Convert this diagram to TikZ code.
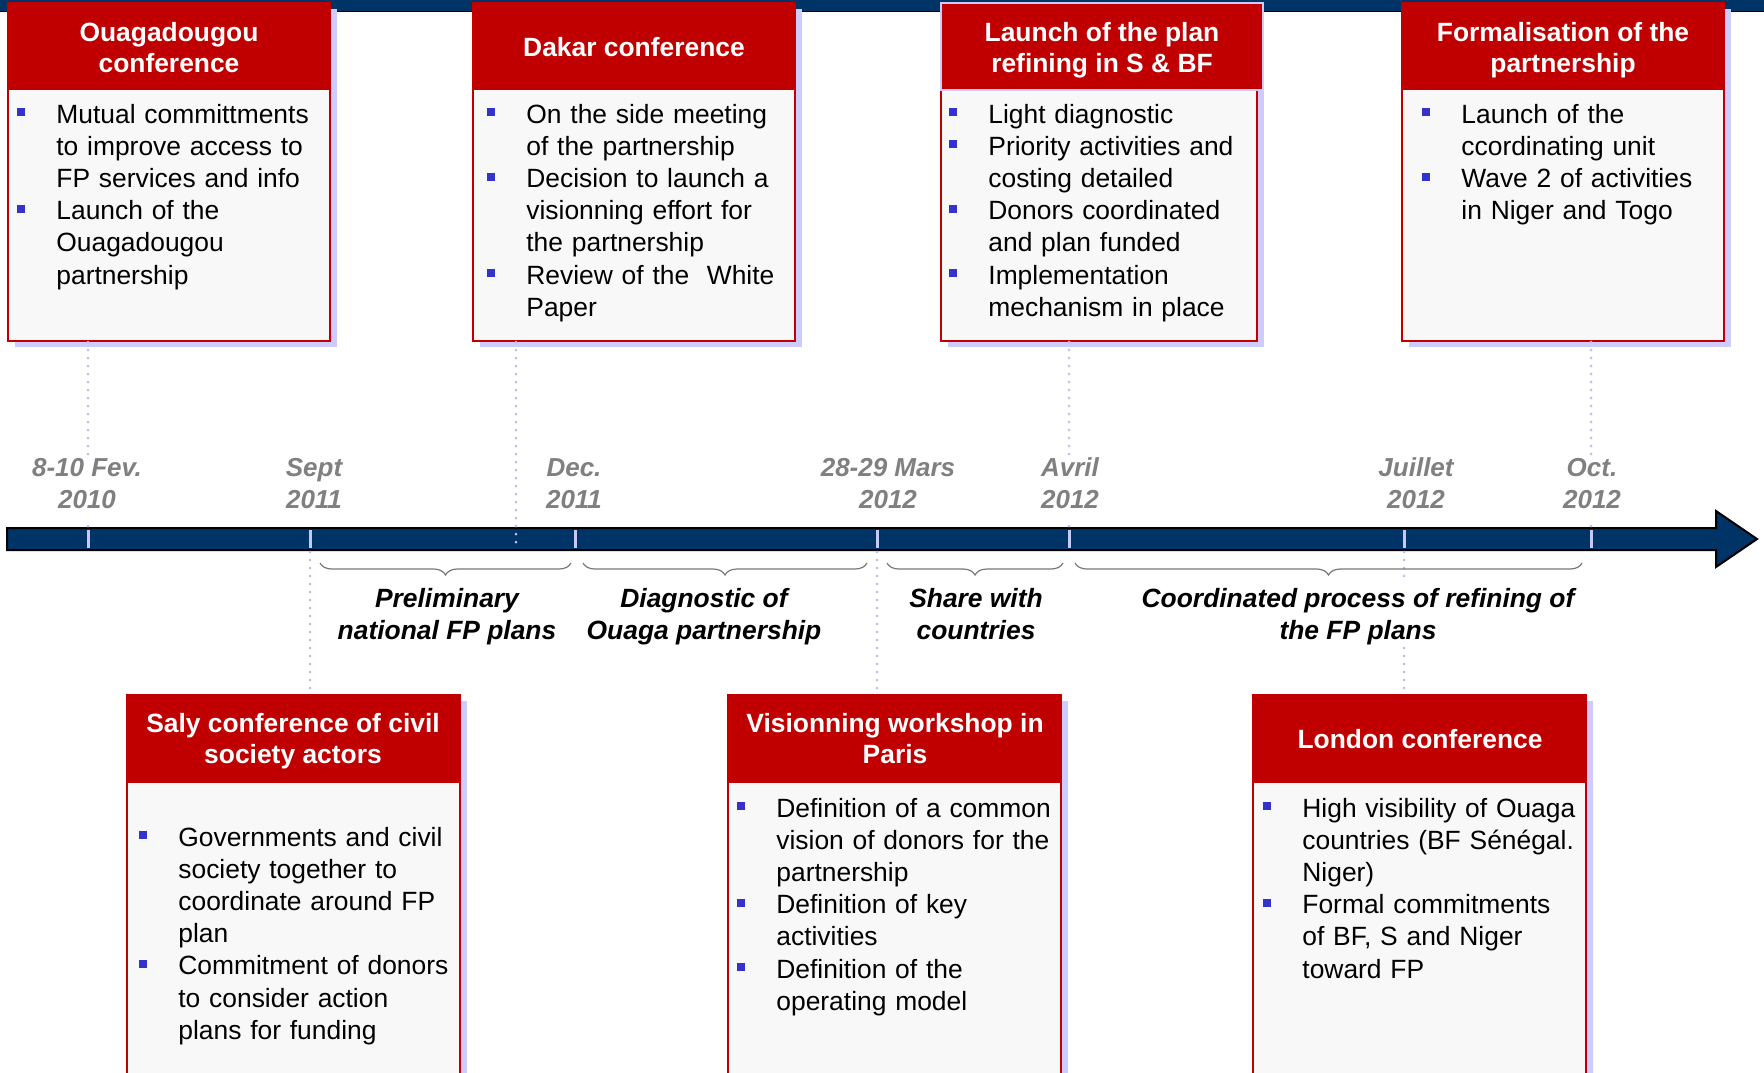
\documentclass[tikz,border=0pt]{standalone}
\usepackage{fontspec}
\setmainfont{Liberation Sans}
\usetikzlibrary{calc,fit,shadows,decorations.pathreplacing}

\definecolor{headred}{RGB}{192,0,0}
\definecolor{shadowblue}{RGB}{204,204,255}
\definecolor{bulletblue}{RGB}{51,51,204}
\definecolor{barnavy}{RGB}{0,51,102}
\definecolor{dategray}{RGB}{128,128,128}
\definecolor{bodyfill}{RGB}{248,248,248}
\definecolor{tickblue}{RGB}{200,200,245}
\definecolor{dotblue}{RGB}{190,190,240}
\definecolor{bracegray}{RGB}{120,120,120}

\newlength{\bulletskip}\setlength{\bulletskip}{19.5pt}
\def\bodyfont{\fontsize{13.2}{16.1}\selectfont}
\def\titlefont{\fontsize{13.2}{15.5}\selectfont\bfseries}
\def\datefont{\fontsize{13}{16}\selectfont\bfseries\itshape}
\def\phasefont{\fontsize{13.2}{16}\selectfont\bfseries\itshape}
\def\bitem{\par\noindent\hangindent=\bulletskip\hangafter=1\makebox[\bulletskip][l]{\textcolor{bulletblue}{\rule[3.5pt]{4pt}{4pt}}}\strut}

\tikzset{
	framebox/.style={draw=headred, line width=1pt, fill=bodyfill, inner sep=0pt,
		drop shadow={shadow xshift=3.5pt, shadow yshift=-3pt, fill=shadowblue, opacity=1}},
	headbar/.style={fill=headred},
	boxtitle/.style={text=white, font=\titlefont, align=center, inner sep=0pt},
	boxtext/.style={anchor=north west, inner sep=0pt, text width=170pt, font=\bodyfont},
	datelabel/.style={anchor=south, text=dategray, font=\datefont, align=center, fill=white, inner sep=1pt},
	phaselabel/.style={anchor=north, font=\phasefont, align=center, fill=white, inner sep=1pt},
	dotline/.style={draw=dotblue, line width=1.5pt, dash pattern=on 0pt off 4pt, line cap=round},
	tickmark/.style={draw=tickblue, line width=1.5pt},
	phasebrace/.style={draw=bracegray, line width=0.6pt, decorate, decoration={brace, mirror, amplitude=6pt}}
}

\begin{document}
\begin{tikzpicture}[x=0.5pt, y=-0.5pt]
	%%%%% START %%%%%
	\useasboundingbox (0,0) rectangle (1764,1072);
	\clip (0,0) rectangle (1764,1072);
	
	% top strip
	\fill[barnavy] (0,0) rectangle (1764,11);
	\draw[line width=0.6pt] (0,11.5) -- (1764,11.5);
	
	% timeline arrow
	\draw[fill=barnavy, line width=1pt] (7,528) -- (1716,528) -- (1716,511) -- (1757,539) -- (1716,567) -- (1716,550) -- (7,550) -- cycle;
	
	\coordinate (fev) at (88,528);
	\coordinate (sept) at (310,528);
	\coordinate (dec) at (575,528);
	\coordinate (mars) at (877,528);
	\coordinate (avril) at (1069,528);
	\coordinate (juil) at (1404,528);
	\coordinate (oct) at (1591,528);
	\coordinate (dakar-foot) at (516,544);
	
	\foreach \d in {fev,sept,dec,mars,avril,juil,oct}
		\draw[tickmark] ($(\d)+(0,2)$) -- ($(\d)+(0,20)$);
	
	%%%%% TOP BOXES %%%%%
	\node[framebox, fit={(8,3) (330,341)}] (ouaga) {};
	\fill[headbar] (8,3) rectangle (330,90);
	\node[boxtitle] (ouaga-title) at (169,50.5) {\strut Ouagadougou\\conference\strut};
	\node[boxtext] (ouaga-text) at (17,90.5) {%
		\bitem Mutual committments\newline to improve access to\newline FP services and info
		\bitem Launch of the\newline Ouagadougou\newline partnership\par};
	
	\node[framebox, fit={(473,3) (795,341)}] (dakar) {};
	\fill[headbar] (473,3) rectangle (795,90);
	\node[boxtitle] (dakar-title) at (634,50.5) {\strut Dakar conference\strut};
	\node[boxtext] (dakar-text) at (487,90.5) {%
		\bitem On the side meeting\newline of the partnership
		\bitem Decision to launch a\newline visionning effort for\newline the partnership
		\bitem Review of the\ \ White\newline Paper\par};
	
	\node[framebox, fit={(941,3) (1257,341)}] (launch) {};
	\draw[headbar, draw=shadowblue, line width=0.6pt] (941,3) rectangle (1263,90);
	\node[boxtitle] (launch-title) at (1102,50.5) {\strut Launch of the plan\\refining in S \& BF\strut};
	\node[boxtext] (launch-text) at (949,90.5) {%
		\bitem Light diagnostic
		\bitem Priority activities and\newline costing detailed
		\bitem Donors coordinated\newline and plan funded
		\bitem Implementation\newline mechanism in place\par};
	
	\node[framebox, fit={(1402,3) (1724,341)}] (formal) {};
	\fill[headbar] (1402,3) rectangle (1724,90);
	\node[boxtitle] (formal-title) at (1563,50.5) {\strut Formalisation of the\\partnership\strut};
	\node[boxtext] (formal-text) at (1422,90.5) {%
		\bitem Launch of the\newline ccordinating unit
		\bitem Wave 2 of activities\newline in Niger and Togo\par};
	
	%%%%% BOTTOM BOXES %%%%%
	\node[framebox, fit={(127,695) (460,1100)}] (saly) {};
	\fill[headbar] (127,695) rectangle (460,783);
	\node[boxtitle] (saly-title) at (293,742) {\strut Saly conference of civil\\society actors\strut};
	\node[boxtext] (saly-text) at (139,813.5) {%
		\bitem Governments and civil\newline society together to\newline coordinate around FP\newline plan
		\bitem Commitment of donors\newline to consider action\newline plans for funding\par};
	
	\node[framebox, fit={(728,695) (1061,1100)}] (vision) {};
	\fill[headbar] (728,695) rectangle (1061,783);
	\node[boxtitle] (vision-title) at (895,742) {\strut Visionning workshop in\\Paris\strut};
	\node[boxtext] (vision-text) at (737,784.5) {%
		\bitem Definition of a common\newline vision of donors for the\newline partnership
		\bitem Definition of key\newline activities
		\bitem Definition of the\newline operating model\par};
	
	\node[framebox, fit={(1253,695) (1586,1100)}] (london) {};
	\fill[headbar] (1253,695) rectangle (1586,783);
	\node[boxtitle] (london-title) at (1420,742) {\strut London conference\strut};
	\node[boxtext] (london-text) at (1263,784.5) {%
		\bitem High visibility of Ouaga\newline countries (BF Sénégal.\newline Niger)
		\bitem Formal commitments\newline of BF, S and Niger\newline toward FP\par};
	
	%%%%% CONNECTORS %%%%%
	\draw[dotline] (ouaga.south -| fev) -- (fev);
	\draw[dotline] (dakar.south -| dakar-foot) -- (dakar-foot);
	\draw[dotline] (launch.south -| avril) -- (avril);
	\draw[dotline] (formal.south -| oct) -- (oct);
	\draw[dotline] ($(sept)+(0,24)$) -- (saly.north -| sept);
	\draw[dotline] ($(mars)+(0,24)$) -- (vision.north -| mars);
	\draw[dotline] ($(juil)+(0,24)$) -- (london.north -| juil);
	
	%%%%% DATES %%%%%
	\node[datelabel] (l-fev) at (87,520) {8-10 Fev.\\2010\strut};
	\node[datelabel] (l-sept) at (314,520) {Sept\\2011\strut};
	\node[datelabel] (l-dec) at (574,520) {Dec.\\2011\strut};
	\node[datelabel] (l-mars) at (888,520) {28-29 Mars\\2012\strut};
	\node[datelabel] (l-avril) at (1070,520) {Avril\\2012\strut};
	\node[datelabel] (l-juil) at (1416,520) {Juillet\\2012\strut};
	\node[datelabel] (l-oct) at (1592,520) {Oct.\\2012\strut};
	
	%%%%% PHASES %%%%%
	\draw[phasebrace] (320,563) -- (571,563);
	\draw[phasebrace] (583,563) -- (867,563);
	\draw[phasebrace] (887,563) -- (1063,563);
	\draw[phasebrace] (1075,563) -- (1582,563);
	
	\node[phaselabel] (p-prelim) at (447,583) {\strut Preliminary\\national FP plans};
	\node[phaselabel] (p-diag) at (704,583) {\strut Diagnostic of\\Ouaga partnership};
	\node[phaselabel] (p-share) at (976,583) {\strut Share with\\countries};
	\node[phaselabel] (p-coord) at (1358,583) {\strut Coordinated process of refining of\\the FP plans};
	
	%%%%% END %%%%%
\end{tikzpicture}
\end{document}
